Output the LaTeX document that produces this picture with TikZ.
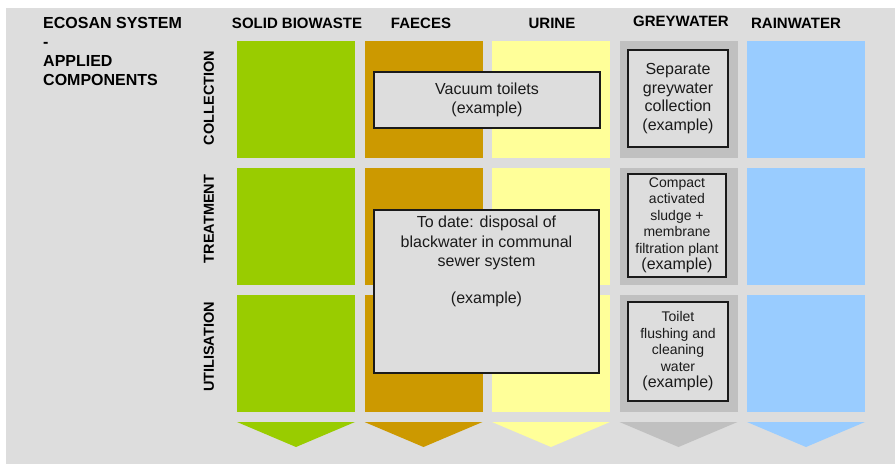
\documentclass[tikz,border=0pt]{standalone}
\usepackage{fontspec}
\setmainfont{Liberation Sans}
\usetikzlibrary{positioning}
\definecolor{bggrey}{HTML}{DDDDDD}
\definecolor{biogreen}{HTML}{99CC00}
\definecolor{faecesbrown}{HTML}{CC9900}
\definecolor{urineyellow}{HTML}{FFFF99}
\definecolor{greygrey}{HTML}{C0C0C0}
\definecolor{rainblue}{HTML}{99CCFF}
\definecolor{inkdark}{HTML}{1A1A1A}
\tikzstyle{cell} = [rectangle, minimum width=118pt, minimum height=117pt, inner sep=0pt, outer sep=0pt]
\tikzstyle{note} = [rectangle, draw=inkdark, line width=1.5pt, fill=bggrey, text=inkdark, align=center, inner sep=0pt, font=\fontsize{16}{18.5}\selectfont]
\tikzstyle{smallnote} = [note, font=\fontsize{14}{16.5}\selectfont]
\tikzstyle{head} = [inner sep=0pt, font=\fontsize{15}{18}\selectfont\bfseries]
\tikzstyle{rowlabel} = [inner sep=0pt, rotate=90, font=\fontsize{14.5}{17}\selectfont\bfseries]

\begin{document}
\begin{tikzpicture}[x=1pt, y=-1pt]
		\useasboundingbox (0,0) rectangle (895,465);
		\fill[bggrey] (6,8) rectangle (895,464);
		
		\node (title) [anchor=north west, inner sep=0pt, align=left, font=\fontsize{16}{19}\selectfont\bfseries] at (43,17) {ECOSAN SYSTEM\\-\\APPLIED\\COMPONENTS};
		
		% column headers
		\node (hbio) [head] at (297,23) {SOLID BIOWASTE};
		\node (hfae) [head] at (421,23) {FAECES};
		\node (huri) [head] at (552,23) {URINE};
		\node (hgrey) [head] at (681,21) {GREYWATER};
		\node (hrain) [head] at (796,23) {RAINWATER};
		
		% row labels
		\node (lcol) [rowlabel] at (209,98) {COLLECTION};
		\node (ltrt) [rowlabel] at (209,219) {TREATMENT};
		\node (luse) [rowlabel] at (209,347) {UTILISATION};
		
		% cells
		\node (bio1) [cell, fill=biogreen] at (296,99.5) {};
		\node (fae1) [cell, fill=faecesbrown, right=9.5pt of bio1] {};
		\node (uri1) [cell, fill=urineyellow, right=9.5pt of fae1] {};
		\node (grey1) [cell, fill=greygrey, right=9.5pt of uri1] {};
		\node (rain1) [cell, fill=rainblue, right=9.5pt of grey1] {};
		
		\node (bio2) [cell, fill=biogreen, below=10pt of bio1] {};
		\node (fae2) [cell, fill=faecesbrown, below=10pt of fae1] {};
		\node (uri2) [cell, fill=urineyellow, below=10pt of uri1] {};
		\node (grey2) [cell, fill=greygrey, below=10pt of grey1] {};
		\node (rain2) [cell, fill=rainblue, below=10pt of rain1] {};
		
		\node (bio3) [cell, fill=biogreen, below=10pt of bio2] {};
		\node (fae3) [cell, fill=faecesbrown, below=10pt of fae2] {};
		\node (uri3) [cell, fill=urineyellow, below=10pt of uri2] {};
		\node (grey3) [cell, fill=greygrey, below=10pt of grey2] {};
		\node (rain3) [cell, fill=rainblue, below=10pt of rain2] {};
		
		% flow arrows
		\fill[biogreen] ([yshift=-10pt]bio3.south west) -- ([yshift=-10pt]bio3.south east) -- ([yshift=-35pt]bio3.south) -- cycle;
		\fill[faecesbrown] ([yshift=-10pt]fae3.south west) -- ([yshift=-10pt]fae3.south east) -- ([yshift=-35pt]fae3.south) -- cycle;
		\fill[urineyellow] ([yshift=-10pt]uri3.south west) -- ([yshift=-10pt]uri3.south east) -- ([yshift=-35pt]uri3.south) -- cycle;
		\fill[greygrey] ([yshift=-10pt]grey3.south west) -- ([yshift=-10pt]grey3.south east) -- ([yshift=-35pt]grey3.south) -- cycle;
		\fill[rainblue] ([yshift=-10pt]rain3.south west) -- ([yshift=-10pt]rain3.south east) -- ([yshift=-35pt]rain3.south) -- cycle;
		
		% example components
		\node (vacuum) [note, minimum width=226pt, minimum height=56pt] at (487,100) {Vacuum toilets\\(example)};
		\node (sepgrey) [note, minimum width=100pt, minimum height=97pt] at (678,98.5) {Separate\\greywater\\collection\\(example)};
		\node (sewer) [note, minimum width=225pt, minimum height=163pt] at (486.5,291.5) {};
		\node (sewertext) [anchor=north, inner sep=0pt, align=center, text=inkdark, font=\fontsize{16}{19.5}\selectfont] at ([yshift=-6.5pt]sewer.north) {To date: disposal of\\blackwater in communal\\sewer system\\[17pt](example)};
		\node (membrane) [smallnote, minimum width=98pt, minimum height=103pt] at (677,225.5) {Compact\\activated\\sludge +\\membrane\\filtration plant\\{\fontsize{16}{18}\selectfont(example)}};
		\node (flushing) [smallnote, minimum width=100pt, minimum height=99pt] at (678,351.5) {Toilet\\flushing and\\cleaning\\water\\{\fontsize{16}{18}\selectfont(example)}};
	\end{tikzpicture}
\end{document}
